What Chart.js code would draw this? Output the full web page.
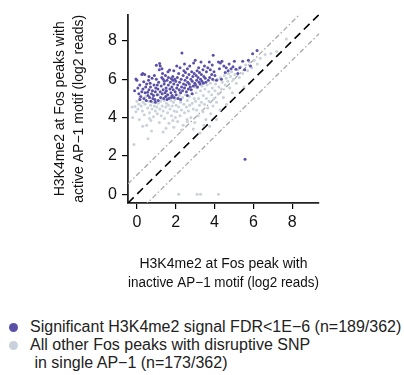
<!DOCTYPE html>
<html>
<head>
<meta charset="utf-8">
<script src="https://cdn.jsdelivr.net/npm/chart.js@4.4.1/dist/chart.umd.min.js"></script>
<style>
html, body { margin: 0; padding: 0; background: #fff; width: 404px; height: 375px; overflow: hidden; font-family: "Liberation Sans", Arial, sans-serif; }
#wrap { position: relative; width: 404px; height: 375px; }
#chart { position: absolute; left: 0; top: 0; }
.legend { position: absolute; left: 0; top: 318px; font-size: 16px; color: #222; line-height: 18px; }
.row { position: relative; padding-left: 30px; white-space: pre; }
.dot { position: absolute; left: 9px; top: 5px; width: 9px; height: 9px; border-radius: 50%; }
</style>
</head>
<body>
<div id="wrap">
    <canvas id="chart" width="404" height="300"></canvas>
    <div class="legend" id="legend"></div>
</div>
<script>
// axis range and ticks (same for x and y)
const axisMin = -0.46;
const axisMax = 9.38;
const tickValues = [0, 2, 4, 6, 8];
// reference lines y = x + offset
const refOffsets = [0, 1, -1];

const xTitle = ["H3K4me2 at Fos peak with", "inactive AP\u22121 motif (log2 reads)"];
const yTitle = ["H3K4me2 at Fos peaks with", "active AP\u22121 motif (log2 reads)"];

const legendLabels = [
    "Significant H3K4me2 signal FDR<1E\u22126 (n=189/362)",
    "All other Fos peaks with disruptive SNP\n in single AP\u22121 (n=173/362)"
];

// significant peaks [inactive, active]
const sigPoints = [
    [-0.12,5.4],[-0.05,6.02],[0.0,5.95],[0.05,5.55],[0.1,5.25],[0.15,5.7],[0.2,5.1],[0.25,6.25],[0.3,6.3],[0.31,5.49],
    [0.35,5.87],[0.36,5.0],[0.4,6.25],[0.42,5.3],[0.45,5.6],[0.48,4.9],[0.5,5.75],[0.15,4.95],[0.25,5.35],
    [0.55,5.32],[0.57,5.15],[0.6,5.95],[0.62,5.45],[0.65,5.05],[0.7,5.6],[0.72,4.85],[0.75,5.25],[0.78,6.05],[0.8,5.4],
    [0.85,5.15],[0.88,5.7],[0.9,6.2],[0.92,4.95],[0.95,5.35],[0.97,5.55],[1.0,6.73],[1.0,6.0],[0.82,5.0],[0.68,5.8],
    [0.62,6.15],[0.95,4.8],
    [1.05,5.2],[1.08,5.5],[1.1,4.9],[1.12,5.85],[1.15,6.5],[1.17,6.83],[1.2,5.35],[1.22,5.05],[1.25,5.65],[1.28,6.1],
    [1.29,6.55],[1.3,5.25],[1.32,6.31],[1.35,5.45],[1.38,5.0],[1.4,5.75],[1.42,5.9],[1.45,5.3],[1.47,6.2],[1.5,5.55],
    [1.35,6.0],[1.48,5.1],[1.2,6.7],[1.05,5.7],
    [1.52,5.4],[1.55,5.95],[1.58,5.2],[1.6,6.4],[1.62,5.7],[1.65,5.0],[1.68,6.49],[1.7,5.5],[1.72,5.85],[1.75,5.3],
    [1.77,6.04],[1.8,5.6],[1.82,5.15],[1.85,6.15],[1.87,5.45],[1.9,5.75],[1.92,5.05],[1.95,6.0],[1.97,5.35],[2.0,5.9],
    [1.85,5.95],[1.62,6.1],[1.55,4.95],[1.78,5.05],[1.9,6.45],
    [2.02,5.2],[2.05,5.55],[2.08,6.1],[2.1,5.7],[2.12,5.0],[2.15,6.3],[2.18,5.45],[2.2,5.85],[2.22,6.6],[2.25,5.3],
    [2.28,6.0],[2.3,5.6],[2.32,7.38],[2.35,5.4],[2.38,6.2],[2.4,5.75],[2.42,6.45],[2.45,5.55],[2.48,5.95],[2.5,6.35],
    [2.05,6.7],[2.25,4.95],[2.45,6.8],
    [2.52,5.7],[2.55,5.35],[2.58,6.1],[2.6,6.55],[2.62,5.85],[2.65,5.5],[2.68,6.25],[2.7,5.75],[2.72,6.7],[2.75,5.6],
    [2.78,6.0],[2.8,5.45],[2.82,6.4],[2.85,5.9],[2.88,6.15],[2.9,5.65],[2.92,6.85],[2.95,6.3],[2.98,5.8],[3.0,7.0],
    [2.6,5.15],[2.85,5.25],
    [3.02,5.7],[3.05,6.2],[3.08,5.95],[3.1,6.45],[3.12,5.6],[3.15,6.1],[3.18,6.6],[3.2,5.85],[3.22,6.35],[3.25,5.75],
    [3.28,6.0],[3.3,6.91],[3.32,6.25],[3.35,5.9],[3.4,6.5],[3.42,5.8],[3.45,6.15],[3.48,6.7],
    [3.52,6.05],[3.55,5.85],[3.58,6.4],[3.65,6.6],[3.68,5.95],[3.73,6.91],[3.75,6.1],[3.78,6.5],
    [3.85,6.25],[3.88,6.75],[3.9,6.0],[3.93,7.26],[3.97,6.4],
    [4.02,6.2],[4.1,5.95],[4.2,6.9],[4.25,6.55],[4.3,6.85],[4.35,6.0],[4.38,6.95],[4.48,6.7],
    [4.55,6.35],[4.6,6.6],[4.7,6.45],[4.75,6.8],[4.85,6.55],[4.95,6.65],
    [5.02,6.94],[5.1,6.52],[5.2,6.3],[5.3,6.6],[5.45,6.94],[5.55,6.5],[5.74,6.99],[5.85,6.7],[5.96,7.34],[6.19,7.51],
    [5.57,1.83]
];

// all other peaks
const otherPoints = [
    [-0.25,4.55],[-0.22,4.0],[-0.15,2.6],[-0.1,4.58],[-0.05,4.3],[0.0,4.85],[0.05,4.45],[0.1,4.7],[0.12,3.9],[0.18,4.95],
    [0.22,4.6],[0.28,4.35],[0.32,4.8],[0.38,4.15],[0.42,4.7],[0.5,3.6],[0.55,4.5],[0.57,2.9],[0.6,4.85],[0.65,4.25],
    [0.7,4.65],[0.72,3.85],[0.78,4.45],[0.82,4.8],[0.85,4.05],[0.9,4.6],[0.95,4.35],[0.98,4.9],[0.3,3.55],[0.75,3.3],
    [1.02,4.55],[1.05,4.2],[1.1,4.75],[1.15,3.75],[1.18,4.45],[1.22,4.85],[1.25,4.1],[1.3,4.6],[1.35,4.35],[1.4,4.9],
    [1.42,3.95],[1.48,4.55],[1.5,3.45],[1.52,4.75],[1.58,4.25],[1.62,4.65],[1.65,3.7],[1.7,4.45],[1.75,4.9],[1.78,4.1],
    [1.82,4.6],[1.85,3.85],[1.88,4.8],[1.92,4.35],[1.95,4.95],[1.98,4.0],[1.55,5.05],[1.25,5.0],[1.7,5.1],[1.9,3.5],
    [2.02,4.65],[2.05,4.3],[2.08,5.0],[2.1,3.8],[2.15,4.55],[2.18,5.15],[2.22,4.1],[2.25,4.8],[2.3,4.4],[2.35,5.05],
    [2.38,3.6],[2.42,4.7],[2.45,4.25],[2.5,5.2],[2.55,4.55],[2.58,3.9],[2.6,4.9],[2.65,4.35],[2.7,5.1],[2.72,4.65],
    [2.78,4.0],[2.82,5.25],[2.85,4.75],[2.9,4.45],[2.95,5.0],[2.98,3.75],[2.6,3.8],[2.3,3.35],
    [3.02,4.85],[3.05,5.3],[3.08,4.4],[3.1,5.55],[3.15,4.1],[3.18,5.0],[3.22,4.65],[3.25,3.2],[3.28,5.4],[3.32,4.8],
    [3.35,5.65],[3.4,4.3],[3.42,5.15],[3.48,4.7],[3.5,5.5],[3.55,3.9],[3.58,5.0],[3.62,5.7],[3.65,4.5],[3.7,5.35],
    [3.72,4.85],[3.78,5.8],[3.8,4.2],[3.85,5.2],[3.88,5.55],[3.92,4.6],[3.95,5.95],[3.98,5.0],[3.45,3.6],[3.75,3.55],
    [4.02,5.4],[4.05,5.75],[4.1,4.8],[4.15,6.0],[4.18,5.25],[4.22,5.6],[4.28,4.4],[4.3,6.1],[4.35,5.5],[4.4,5.85],
    [4.45,5.05],[4.5,6.2],[4.55,5.7],[4.6,6.05],[4.62,4.7],[4.68,5.9],[4.72,6.3],[4.78,5.55],[4.82,6.15],[4.88,6.4],
    [4.92,5.3],[4.98,6.0],
    [5.05,6.25],[5.12,5.8],[5.2,6.5],[5.28,6.1],[5.35,6.65],[5.45,6.3],[5.52,5.6],[5.6,6.75],[5.7,6.45],[5.8,6.9],
    [5.92,6.6],[6.05,7.0],[6.2,6.8],[6.35,7.1],[6.6,7.3],[6.9,7.35],[7.2,7.45],[7.7,8.1],
    [2.15,0],[3.1,0],[3.28,0],[4.2,0],
    [0.15,5.05],[0.45,5.1],[0.88,5.15],[1.12,5.2],[2.2,5.35],[2.75,5.45],[3.0,5.6],[1.35,3.25],[2.9,3.4],[0.65,3.95],
    [4.1,3.9]
];

const sigColor = "#5b50a8";
const otherColor = "#c9d2da";
const font = "'Liberation Sans', Arial, sans-serif";

const toXY = arr => arr.map(p => ({ x: p[0], y: p[1] }));

const refLines = refOffsets.map((off, i) => ({
    type: "line",
    data: [{ x: axisMin, y: axisMin + off }, { x: axisMax, y: axisMax + off }],
    showLine: true,
    borderColor: i === 0 ? "#000" : "#a8a8a8",
    borderWidth: i === 0 ? 1.6 : 1.3,
    borderDash: i === 0 ? [8, 5] : [5, 2.5, 1.5, 2.5],
    pointRadius: 0,
    fill: false,
    order: 5
}));

function axis(titleLines, isY) {
    return {
        type: "linear",
        min: axisMin,
        max: axisMax,
        afterBuildTicks: s => { s.ticks = tickValues.map(v => ({ value: v })); },
        afterFit: s => {
            if (isY) s.width = 128;
            else s.height = 97;
        },
        grid: { display: true, drawOnChartArea: false, drawTicks: true, tickLength: 6, color: "#000", lineWidth: 1.2 },
        border: { display: true, color: "#222", width: 1.8 },
        ticks: {
            color: "#111",
            padding: isY ? 5 : 4,
            font: { family: font, size: 16 }
        },
        title: {
            display: true,
            text: titleLines,
            color: "#111",
            font: { family: font, size: 14, lineHeight: 1.36 },
            padding: isY ? { top: 51, bottom: 0 } : { top: 0, bottom: 7 }
        }
    };
}

new Chart(document.getElementById("chart"), {
    type: "scatter",
    data: {
        datasets: [
            { data: toXY(otherPoints), backgroundColor: otherColor, borderWidth: 0, pointRadius: 1.5, order: 3 },
            { data: toXY(sigPoints), backgroundColor: sigColor, borderWidth: 0, pointRadius: 1.5, order: 2 },
            ...refLines
        ]
    },
    options: {
        responsive: false,
        animation: false,
        devicePixelRatio: 1,
        layout: { padding: { top: 13, right: 85, left: 0, bottom: 0 } },
        plugins: { legend: { display: false }, tooltip: { enabled: false } },
        scales: { x: axis(xTitle, false), y: axis(yTitle, true) }
    }
});

// legend under the plot
const legendEl = document.getElementById("legend");
[sigColor, otherColor].forEach((c, i) => {
    const row = document.createElement("div");
    row.className = "row";
    row.innerHTML = `<span class="dot" style="background:${c}"></span>`;
    row.appendChild(document.createTextNode(legendLabels[i]));
    legendEl.appendChild(row);
});
</script>
</body>
</html>
